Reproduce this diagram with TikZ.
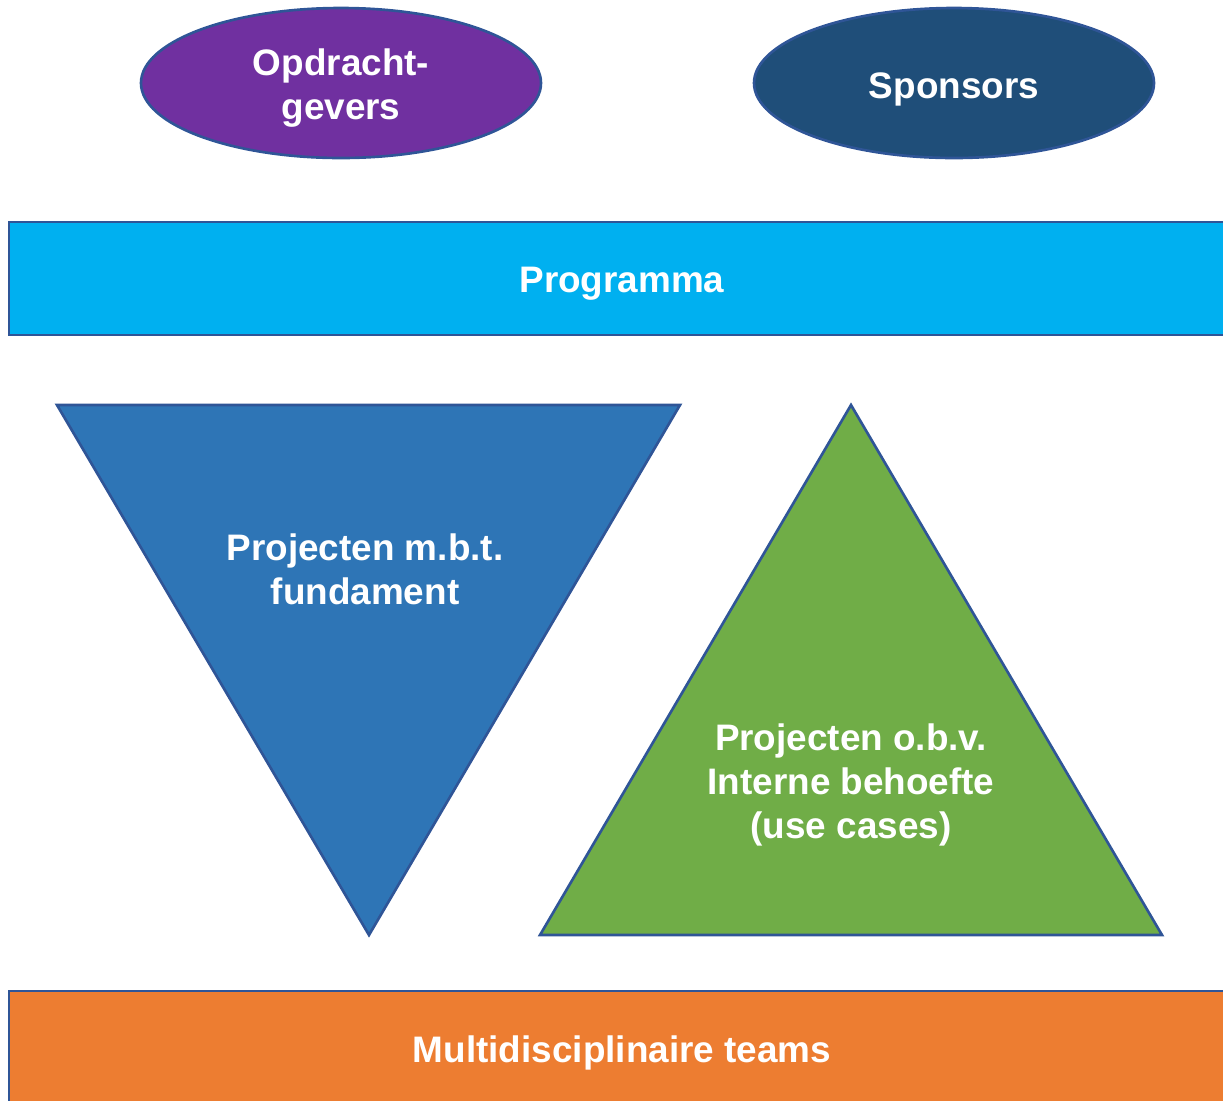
\documentclass[tikz,border=0pt]{standalone}
\usepackage{fontspec}
\setmainfont{Liberation Sans}
\definecolor{bordc}{HTML}{2F5597}
\definecolor{purp}{HTML}{7030A0}
\definecolor{navy}{HTML}{1F4E79}
\definecolor{sky}{HTML}{00B0F0}
\definecolor{tblue}{HTML}{2E75B6}
\definecolor{tgreen}{HTML}{70AD47}
\definecolor{orng}{HTML}{ED7D31}
\begin{document}
\begin{tikzpicture}[x=0.02cm,y=-0.02cm,
  boxshape/.style={draw=bordc,line width=1.5pt,line join=miter},
  lbl/.style={text=white,font=\bfseries\fontsize{21}{25}\selectfont,align=center}]
\useasboundingbox (0,0) rectangle (1223,1100);
% ellipses
\draw[boxshape,fill=purp] (341,83) ellipse [x radius=200,y radius=75];
\node[lbl] (opd) at (341,88) {Opdracht-\\gevers};
\draw[boxshape,fill=navy] (954,83) ellipse [x radius=200,y radius=75];
\node[lbl] (spo) at (954,89) {Sponsors};
% programma
\draw[boxshape,fill=sky] (9,222) rectangle (1240,335);
\node[lbl] (prog) at (622,284) {Programma};
% triangles
\draw[boxshape,fill=tblue] (57,405) -- (680,405) -- (369,935) -- cycle;
\node[lbl] (fund) at (365,569) {Projecten m.b.t.\\fundament};
\draw[boxshape,fill=tgreen] (851,405) -- (1162,935) -- (540,935) -- cycle;
\node[lbl] (intern) at (851,785) {Projecten o.b.v.\\Interne behoefte\\(use cases)};
% teams
\draw[boxshape,fill=orng] (9,991) rectangle (1240,1120);
\node[lbl] (teams) at (622,1053) {Multidisciplinaire teams};
\end{tikzpicture}
\end{document}
